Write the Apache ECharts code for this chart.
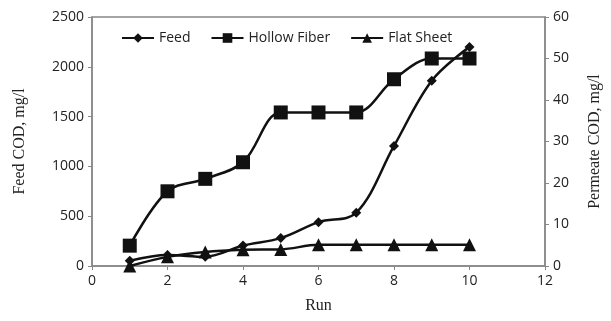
<!DOCTYPE html>
<html>
<head>
<meta charset="utf-8">
<script src="https://cdn.jsdelivr.net/npm/echarts@6/dist/echarts.min.js"></script>
<style>
  html, body { margin: 0; padding: 0; background: #fff; }
  #chart { width: 611px; height: 321px; }
</style>
</head>
<body>
<div id="chart"></div>
<script>
// run numbers and values
var runs = [1, 2, 3, 4, 5, 6, 7, 8, 9, 10];
var feedData = [52, 110, 93, 205, 280, 440, 535, 1205, 1860, 2200];        // left axis
var hollowData = [4.9, 18, 21, 25, 37, 37, 37, 45, 50, 50];                 // right axis
var flatData = [0, 2.2, 3.4, 3.9, 4, 5.1, 5.1, 5.1, 5.1, 5.1];              // right axis

function pairs(vals) {
    return runs.map(function (r, i) { return [r, vals[i]]; });
}

var tickFont = { fontFamily: 'Open Sans', fontSize: 14, color: '#222' };
var nameFont = { fontFamily: 'Liberation Serif', fontSize: 16, color: '#222' };
var plain = function (v) { return String(v); };

var chart = echarts.init(document.getElementById('chart'), null, { renderer: 'canvas' });

var option = {
    animation: false,
    grid: {
        left: 92, right: 65, top: 17, bottom: 55,
        show: true, borderColor: '#888', borderWidth: 1.5
    },
    legend: {
        top: 26, left: 116,
        itemWidth: 32, itemHeight: 12, itemGap: 20,
        textStyle: { fontFamily: 'Open Sans', fontSize: 14, color: '#222' },
        data: ['Feed', 'Hollow Fiber', 'Flat Sheet']
    },
    xAxis: {
        type: 'value', min: 0, max: 12, interval: 2,
        name: 'Run', nameLocation: 'middle', nameGap: 32,
        nameTextStyle: nameFont,
        axisLine: { lineStyle: { color: '#888', width: 1.5 } },
        axisTick: { show: true, length: 4, lineStyle: { color: '#888' } },
        axisLabel: Object.assign({ margin: 8, formatter: plain }, tickFont),
        splitLine: { show: false }
    },
    yAxis: [
        {
            type: 'value', min: 0, max: 2500, interval: 500,
            name: 'Feed COD, mg/l', nameLocation: 'middle', nameGap: 64, nameRotate: 90,
            nameTextStyle: nameFont,
            axisLine: { show: true, lineStyle: { color: '#888', width: 1.5 } },
            axisTick: { show: true, length: 4, lineStyle: { color: '#888' } },
            axisLabel: Object.assign({ margin: 8, formatter: plain }, tickFont),
            splitLine: { show: false }
        },
        {
            type: 'value', min: 0, max: 60, interval: 10,
            name: 'Permeate COD, mg/l', nameLocation: 'middle', nameGap: 42, nameRotate: 90,
            nameTextStyle: nameFont,
            axisLine: { show: true, lineStyle: { color: '#888', width: 1.5 } },
            axisTick: { show: true, length: 4, lineStyle: { color: '#888' } },
            axisLabel: Object.assign({ margin: 8, formatter: plain }, tickFont),
            splitLine: { show: false }
        }
    ],
    series: [
        {
            name: 'Feed', type: 'line', yAxisIndex: 0,
            smooth: 0.35,
            symbol: 'diamond', symbolSize: 10,
            lineStyle: { color: '#111', width: 2.5 },
            itemStyle: { color: '#111' },
            data: pairs(feedData)
        },
        {
            name: 'Hollow Fiber', type: 'line', yAxisIndex: 1,
            smooth: 0.35,
            symbol: 'rect', symbolSize: 14,
            lineStyle: { color: '#111', width: 2.5 },
            itemStyle: { color: '#111' },
            data: pairs(hollowData)
        },
        {
            name: 'Flat Sheet', type: 'line', yAxisIndex: 1,
            smooth: 0.35,
            symbol: 'triangle', symbolSize: 13,
            lineStyle: { color: '#111', width: 2.5 },
            itemStyle: { color: '#111' },
            data: pairs(flatData)
        }
    ]
};

chart.setOption(option);
</script>
</body>
</html>
